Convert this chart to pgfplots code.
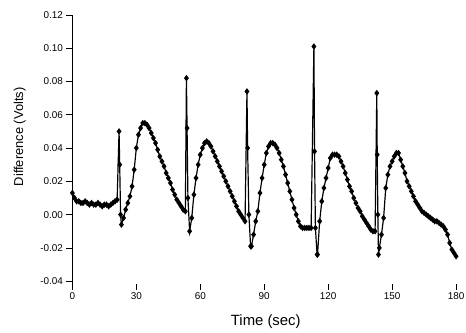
\documentclass[border=0pt]{standalone}
\usepackage{fontspec}
\setmainfont{Liberation Sans}
\usepackage{pgfplots}
\pgfplotsset{compat=1.18}
\begin{document}
\begin{tikzpicture}
\useasboundingbox (-73pt,-43pt) rectangle (397pt,292pt);
\begin{axis}[
  at={(0pt,0pt)}, anchor=south west,
  scale only axis, width=387pt, height=277pt,
  xmin=0, xmax=180, ymin=-0.045, ymax=0.12,
  axis y line*=left, axis x line*=bottom,
  axis line style={-, line width=0.9pt},
  x axis line style={draw=none},
  xtick={0,30,60,90,120,150,180},
  ytick={-0.04,-0.02,0,0.02,0.04,0.06,0.08,0.10,0.12},
  xtick align=inside, ytick align=outside,
  major tick length=6pt,
  tick style={black, line width=0.7pt},
  /pgf/number format/assume math mode=true,
  yticklabel style={/pgf/number format/.cd, fixed, fixed zerofill, precision=2},
  ticklabel style={font=\fontsize{10}{12}\selectfont},
  every axis y label/.style={at={(axis description cs:-0.137,0.556)}, anchor=center, rotate=90, font=\fontsize{13}{15}\selectfont},
  every axis x label/.style={at={(axis description cs:0.504,-0.1155)}, anchor=center, font=\fontsize{15}{17}\selectfont},
  ylabel={Difference (Volts)},
  xlabel={Time (sec)},
  clip=false,
]
\addplot[black, line width=1.2pt, mark=diamond*, mark size=2.3pt, mark options={solid}] coordinates {
(0,0.013) (1,0.010) (2,0.008) (3,0.008) (4,0.007) (5,0.007) (6,0.008) (7,0.007) (8,0.006) (9,0.007)
(10,0.006) (11,0.006) (12,0.007) (13,0.006) (14,0.005) (15,0.006) (16,0.006) (17,0.005) (18,0.006) (19,0.007)
(20,0.008) (21,0.009) (21.9,0.050) (22.2,0.030) (22.6,0.000) (23,-0.006) (24,-0.002) (25,0.003) (26,0.007) (27,0.011)
(28,0.017) (29,0.027) (30,0.040) (31,0.048) (32,0.052) (33,0.055) (34,0.055) (35,0.054) (36,0.052) (37,0.049)
(38,0.046) (39,0.043) (40,0.039) (41,0.035) (42,0.032) (43,0.029) (44,0.025) (45,0.022) (46,0.019) (47,0.015)
(48,0.012) (49,0.009) (50,0.007) (51,0.005) (52,0.003) (53,0.002) (53.5,0.082) (53.8,0.052) (54.2,0.010) (55,-0.010)
(56,-0.002) (57,0.012) (58,0.022) (59,0.030) (60,0.036) (61,0.040) (62,0.043) (63,0.044) (64,0.043) (65,0.041)
(66,0.038) (67,0.035) (68,0.032) (69,0.029) (70,0.026) (71,0.023) (72,0.020) (73,0.017) (74,0.014) (75,0.011)
(76,0.008) (77,0.005) (78,0.002) (79,0.000) (80,-0.002) (81,-0.004) (81.9,0.074) (82.2,0.040) (82.8,0.000) (83.6,-0.019)
(84,-0.019) (85,-0.012) (86,-0.004) (87,0.002) (88,0.013) (89,0.022) (90,0.030) (91,0.037) (92,0.041) (93,0.043)
(94,0.043) (95,0.042) (96,0.040) (97,0.037) (98,0.033) (99,0.029) (100,0.024) (101,0.019) (102,0.014) (103,0.009)
(104,0.004) (105,0.000) (106,-0.004) (107,-0.007) (108,-0.008) (109,-0.008) (110,-0.008) (111,-0.008) (112,-0.008)
(113.3,0.101) (113.6,0.038) (114,-0.008) (114.8,-0.024)
(115,-0.024) (116,-0.004) (117,0.008) (118,0.016) (119,0.022) (120,0.028) (121,0.034) (122,0.036) (123,0.036) (124,0.036)
(125,0.035) (126,0.032) (127,0.029) (128,0.025) (129,0.021) (130,0.017) (131,0.014) (132,0.010) (133,0.007) (134,0.004)
(135,0.002) (136,-0.001) (137,-0.003) (138,-0.005) (139,-0.007) (140,-0.009) (141,-0.010) (142,-0.010)
(142.8,0.073) (143,0.036) (143.3,0.000) (143.6,-0.024)
(144,-0.020) (145,-0.012) (146,-0.002) (147,0.016) (148,0.024) (149,0.029) (150,0.032) (151,0.035) (152,0.037) (153,0.037)
(154,0.033) (155,0.029) (156,0.025) (157,0.020) (158,0.017) (159,0.014) (160,0.011) (161,0.008) (162,0.006) (163,0.004)
(164,0.002) (165,0.001) (166,0.000) (167,-0.001) (168,-0.002) (169,-0.003) (170,-0.004) (171,-0.004) (172,-0.005) (173,-0.006)
(174,-0.007) (175,-0.009) (176,-0.012) (177,-0.017) (178,-0.021) (179,-0.023) (180,-0.025)
};
\end{axis}
\end{tikzpicture}
\end{document}
